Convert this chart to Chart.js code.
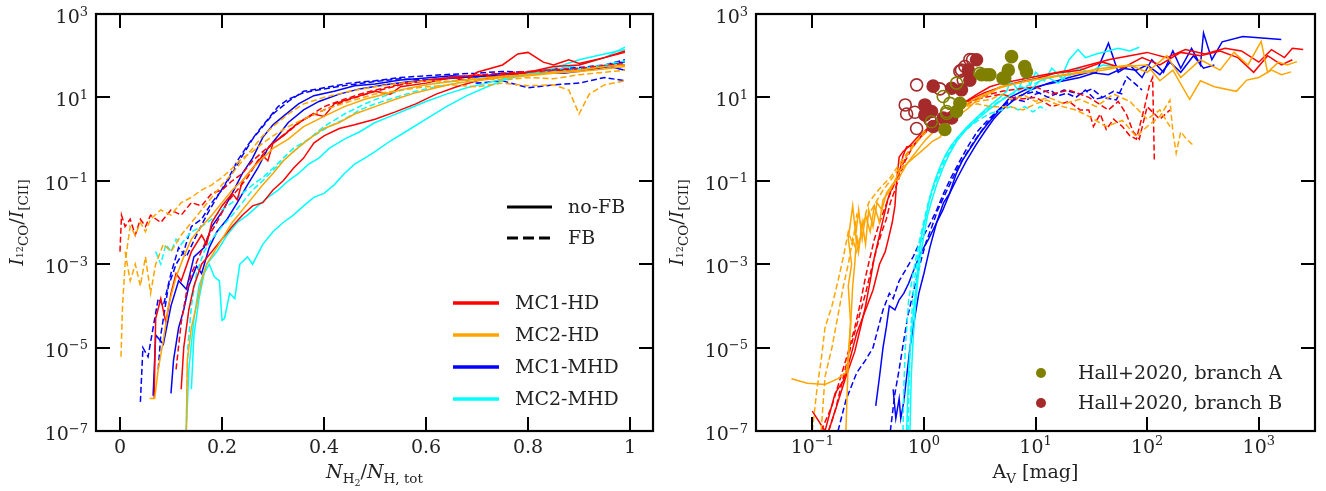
<!DOCTYPE html>
<html>
<head>
<meta charset="utf-8">
<script src="https://cdn.jsdelivr.net/npm/chart.js@4.4.0/dist/chart.umd.min.js"></script>
<style>
html, body { margin: 0; padding: 0; background: #fff; }
#wrap { position: relative; width: 1326px; height: 491px; }
canvas { position: absolute; top: 0; }
</style>
</head>
<body>
<div id="wrap">
  <canvas id="leftCanvas" width="663" height="491" style="left:0"></canvas>
  <canvas id="rightCanvas" width="663" height="491" style="left:663px"></canvas>
</div>
<script>
// ---- tick values / labels ----
const ratioTicks = [1e-7, 1e-5, 1e-3, 1e-1, 1e1, 1e3];
const ratioTickExp = ['\u22127', '\u22125', '\u22123', '\u22121', '1', '3'];
const fracTicks = [0, 0.2, 0.4, 0.6, 0.8, 1];
const fracTickLabels = ['0', '0.2', '0.4', '0.6', '0.8', '1'];
const avTicks = [0.1, 1, 10, 100, 1000];
const avTickExp = ['\u22121', '0', '1', '2', '3'];

const seriesNames = ['MC1-HD', 'MC2-HD', 'MC1-MHD', 'MC2-MHD'];
const seriesColors = ['#ff0000', '#ffa500', '#0000ff', '#00ffff'];

// ---- left panel: ratio vs N_H2/N_H,tot ----
const fracRedSolid1 = [[0.067,6e-7],[0.07,5e-5],[0.08,1.5e-4],[0.09,4e-5],[0.1,2e-4],[0.11,6e-4],[0.12,4e-4],[0.14,2e-3],[0.16,5e-3],[0.17,3e-3],[0.18,1e-2],[0.2,2.5e-2],[0.22,5e-2],[0.23,3.5e-2],[0.24,0.1],[0.26,0.2],[0.28,0.4],[0.29,0.3],[0.3,0.8],[0.32,1.2],[0.35,2.5],[0.38,4],[0.4,3.5],[0.42,7],[0.46,10],[0.5,14],[0.53,12],[0.55,18],[0.6,22],[0.65,30],[0.68,26],[0.7,40],[0.75,60],[0.78,110],[0.8,120],[0.83,70],[0.85,60],[0.88,80],[0.9,65],[0.95,90],[0.99,120]];
const fracRedSolid2 = [[0.12,1e-6],[0.125,1e-5],[0.135,8e-5],[0.145,3e-4],[0.16,1e-3],[0.18,2e-3],[0.2,4e-3],[0.22,8e-3],[0.24,1.5e-2],[0.26,2.5e-2],[0.28,3e-2],[0.3,6e-2],[0.32,0.1],[0.34,0.2],[0.36,0.35],[0.38,0.8],[0.4,1.2],[0.43,1.8],[0.46,2.2],[0.5,3],[0.54,4.5],[0.58,7],[0.62,12],[0.66,18],[0.7,25],[0.75,35],[0.8,40],[0.85,55],[0.9,60],[0.95,90],[0.99,130]];
const fracRedDash1 = [[0.0,2e-3],[0.003,1.5e-2],[0.01,8e-3],[0.02,1.2e-2],[0.03,5e-3],[0.04,1.2e-2],[0.05,8e-3],[0.06,1.5e-2],[0.08,1e-2],[0.1,2e-2],[0.12,1.5e-2],[0.14,3e-2],[0.16,2.5e-2],[0.18,5e-2],[0.2,6e-2],[0.22,0.1],[0.24,0.15],[0.26,0.3],[0.28,0.5],[0.3,0.8],[0.33,1.5],[0.36,3],[0.4,5],[0.45,9],[0.5,14],[0.55,20],[0.6,25],[0.65,30],[0.7,35],[0.75,30],[0.8,40],[0.85,45],[0.9,42],[0.95,55],[0.99,60]];
const fracRedDash2 = [[0.11,3e-6],[0.12,4e-5],[0.13,2e-4],[0.14,6e-4],[0.155,1.5e-3],[0.17,4e-3],[0.19,1e-2],[0.21,3e-2],[0.23,6e-2],[0.25,0.12],[0.27,0.3],[0.29,0.6],[0.31,1],[0.34,2],[0.37,3.5],[0.4,6],[0.44,9],[0.48,13],[0.52,17],[0.56,22],[0.6,26],[0.65,30],[0.7,34],[0.75,38],[0.8,42],[0.85,46],[0.9,50],[0.95,58],[0.99,65]];

const fracOrangeSolid1 = [[0.058,6e-7],[0.068,6e-7],[0.075,3e-6],[0.085,1.5e-5],[0.095,1e-4],[0.11,5e-4],[0.125,1.5e-3],[0.14,4e-3],[0.16,8e-3],[0.18,1.5e-2],[0.2,3e-2],[0.22,6e-2],[0.24,0.1],[0.26,0.2],[0.28,0.35],[0.3,0.6],[0.33,1],[0.36,2],[0.4,3.5],[0.44,6],[0.48,9],[0.52,12],[0.56,16],[0.6,20],[0.65,24],[0.7,28],[0.75,32],[0.8,35],[0.85,40],[0.9,45],[0.95,55],[0.99,60]];
const fracOrangeSolid2 = [[0.13,1e-7],[0.132,5e-6],[0.14,3e-5],[0.15,1e-4],[0.16,4e-4],[0.17,1e-3],[0.185,2e-3],[0.2,4e-3],[0.22,1e-2],[0.24,2e-2],[0.26,4e-2],[0.28,8e-2],[0.3,0.15],[0.32,0.3],[0.34,0.5],[0.37,1],[0.4,1.8],[0.43,2.5],[0.46,4],[0.5,6],[0.54,9],[0.58,13],[0.62,17],[0.66,22],[0.7,25],[0.75,30],[0.8,33],[0.85,38],[0.9,42],[0.95,48],[0.99,55]];
const fracOrangeDash1 = [[0.002,6e-6],[0.005,1e-4],[0.01,1e-3],[0.015,3e-3],[0.02,8e-3],[0.03,5e-3],[0.04,1e-2],[0.05,6e-3],[0.06,1.2e-2],[0.08,2e-2],[0.1,1.5e-2],[0.12,3e-2],[0.14,4e-2],[0.16,6e-2],[0.18,8e-2],[0.2,0.12],[0.22,0.2],[0.24,0.35],[0.26,0.5],[0.28,0.8],[0.3,1.2],[0.33,2],[0.36,3],[0.4,5],[0.45,8],[0.5,12],[0.55,15],[0.6,18],[0.65,20],[0.7,18],[0.75,22],[0.8,19],[0.85,20],[0.88,15],[0.9,4],[0.92,12],[0.95,20],[0.99,25]];
const fracOrangeDash2 = [[0.01,2e-3],[0.02,4e-4],[0.03,1e-3],[0.04,3e-4],[0.05,1.5e-3],[0.06,2e-4],[0.07,1e-3],[0.085,3e-3],[0.1,2e-3],[0.12,5e-3],[0.14,1e-2],[0.16,2e-2],[0.18,4e-2],[0.2,8e-2],[0.22,0.15],[0.24,0.3],[0.26,0.6],[0.28,1.2],[0.3,2],[0.33,4],[0.36,7],[0.4,10],[0.45,14],[0.5,18],[0.55,22],[0.6,25],[0.65,24],[0.7,28],[0.75,26],[0.8,30],[0.85,28],[0.9,35],[0.95,40],[0.99,45]];

const fracBlueSolid1 = [[0.065,7e-7],[0.07,2e-5],[0.085,1.2e-5],[0.1,1e-4],[0.115,4e-4],[0.13,2.5e-4],[0.145,1.5e-3],[0.165,2.5e-3],[0.18,8e-3],[0.2,1.8e-2],[0.22,5e-2],[0.24,0.15],[0.26,0.35],[0.28,1.1],[0.3,2.2],[0.32,3.5],[0.35,7],[0.38,11],[0.42,14],[0.46,19],[0.5,21],[0.55,26],[0.6,29],[0.65,33],[0.7,31],[0.75,38],[0.8,36],[0.85,44],[0.9,48],[0.95,58],[0.99,72]];
const fracBlueSolid2 = [[0.1,8e-7],[0.105,5e-6],[0.115,3e-5],[0.125,8e-5],[0.135,3e-4],[0.15,9e-4],[0.16,6e-4],[0.175,2.5e-3],[0.19,6e-3],[0.21,1.2e-2],[0.23,3e-2],[0.25,8e-2],[0.27,0.2],[0.29,0.6],[0.31,1.2],[0.33,2.5],[0.36,5],[0.39,8],[0.43,12],[0.47,16],[0.52,20],[0.57,24],[0.62,27],[0.67,30],[0.72,33],[0.77,35],[0.82,40],[0.87,38],[0.92,46],[0.96,55],[0.99,45]];
const fracBlueDash1 = [[0.04,5e-7],[0.045,1e-5],[0.055,6e-6],[0.065,3e-5],[0.075,1.5e-4],[0.085,1e-4],[0.1,6e-4],[0.115,2.5e-3],[0.13,1.5e-3],[0.15,5e-3],[0.17,1.5e-2],[0.19,4e-2],[0.21,0.1],[0.23,0.3],[0.25,0.7],[0.27,1.5],[0.29,3],[0.31,6],[0.33,9],[0.36,13],[0.4,16],[0.45,20],[0.5,24],[0.55,28],[0.6,26],[0.65,30],[0.7,22],[0.75,25],[0.8,17],[0.85,20],[0.9,22],[0.95,30],[0.99,25]];
const fracBlueDash2 = [[0.075,3e-6],[0.08,2e-5],[0.095,3e-4],[0.11,1e-3],[0.125,2e-3],[0.14,8e-3],[0.16,1.2e-2],[0.18,3e-2],[0.2,6e-2],[0.22,0.15],[0.24,0.4],[0.26,1],[0.28,2],[0.3,4],[0.33,8],[0.36,14],[0.4,17],[0.45,22],[0.5,25],[0.55,30],[0.6,33],[0.65,36],[0.7,38],[0.75,42],[0.8,40],[0.85,48],[0.9,52],[0.95,60],[0.99,80]];

const fracCyanSolid1 = [[0.14,1e-6],[0.145,2e-5],[0.155,1.5e-4],[0.165,6e-4],[0.175,1e-3],[0.185,5e-4],[0.195,4e-4],[0.2,4.5e-5],[0.205,5e-5],[0.215,2e-4],[0.225,1.5e-4],[0.235,1e-3],[0.25,1.5e-3],[0.26,1e-3],[0.28,3e-3],[0.3,6e-3],[0.32,1e-2],[0.34,1.5e-2],[0.36,2.5e-2],[0.38,4e-2],[0.4,5e-2],[0.42,8e-2],[0.44,0.15],[0.46,0.25],[0.48,0.35],[0.5,0.5],[0.53,0.9],[0.56,1.5],[0.6,3],[0.64,6],[0.68,11],[0.72,18],[0.76,28],[0.8,35],[0.85,50],[0.9,80],[0.95,110],[0.99,140]];
const fracCyanSolid2 = [[0.13,1e-7],[0.135,3e-6],[0.145,5e-5],[0.155,3e-4],[0.17,1e-3],[0.19,2e-3],[0.21,5e-3],[0.23,1e-2],[0.25,1.5e-2],[0.27,2.5e-2],[0.29,4e-2],[0.31,6e-2],[0.33,0.1],[0.35,0.15],[0.37,0.25],[0.39,0.35],[0.41,0.6],[0.44,1],[0.47,1.5],[0.5,2.5],[0.53,3.5],[0.56,5],[0.6,8],[0.64,12],[0.68,17],[0.72,22],[0.76,30],[0.8,38],[0.85,45],[0.9,60],[0.95,90],[0.99,160]];
const fracCyanDash1 = [[0.13,1e-7],[0.133,1e-5],[0.14,1e-4],[0.15,6e-4],[0.165,2e-3],[0.18,4e-3],[0.2,8e-3],[0.22,1.5e-2],[0.24,3e-2],[0.26,6e-2],[0.28,0.1],[0.3,0.18],[0.32,0.3],[0.34,0.5],[0.36,0.8],[0.38,1.2],[0.41,2],[0.44,3],[0.47,5],[0.5,7],[0.54,10],[0.58,14],[0.62,18],[0.66,22],[0.7,26],[0.75,30],[0.8,34],[0.85,40],[0.9,45],[0.95,55],[0.99,65]];
const fracCyanDash2 = [[0.07,2e-3],[0.08,1e-3],[0.09,3e-3],[0.1,2e-3],[0.11,4e-3],[0.12,3e-3],[0.14,6e-3],[0.16,8e-3],[0.18,1.2e-2],[0.2,2e-2],[0.22,3e-2],[0.24,5e-2],[0.26,8e-2],[0.28,0.12],[0.3,0.2],[0.32,0.35],[0.34,0.6],[0.37,1],[0.4,2],[0.44,4],[0.48,7],[0.52,11],[0.56,16],[0.6,20],[0.65,25],[0.7,28],[0.75,32],[0.8,36],[0.85,40],[0.9,48],[0.95,60],[0.99,75]];

// ---- right panel: ratio vs A_V ----
const avRedSolid1 = [[0.1,3e-7],[0.13,1e-7],[0.16,8e-7],[0.19,1.6e-6],[0.22,6e-6],[0.25,2.2e-5],[0.3,8e-5],[0.35,2.4e-4],[0.4,1e-3],[0.45,2e-3],[0.48,4e-3],[0.52,1e-2],[0.55,2.5e-2],[0.57,0.1],[0.6,0.37],[0.65,0.5],[0.75,0.7],[0.9,1.2],[1.13,2],[1.5,3.5],[2.2,7],[3,12],[3.9,18],[5,22],[8,28],[12,35],[20,45],[30,60],[45,80],[70,100],[100,120],[150,90],[220,140],[330,110],[500,150],[700,130],[1000,70],[1300,140],[1700,90],[2000,150],[2500,140]];
const avRedSolid2 = [[0.14,1e-7],[0.17,5e-7],[0.2,2e-6],[0.24,8e-6],[0.27,3e-5],[0.3,1e-4],[0.33,4e-4],[0.36,1.5e-3],[0.4,5e-3],[0.44,1.5e-2],[0.48,4e-2],[0.53,0.08],[0.6,0.15],[0.65,0.4],[0.7,0.65],[0.8,0.7],[0.95,1.2],[1.15,2],[1.5,3.5],[2,6],[2.6,9],[3.5,13],[5,18],[7,23],[10,28],[15,38],[25,45],[40,70],[60,50],[90,90],[130,60],[200,120],[300,100],[450,130],[650,90],[900,40],[1200,100],[1600,60],[2000,80]];
const avRedDash1 = [[0.14,1e-7],[0.16,3e-7],[0.19,2e-6],[0.22,1e-5],[0.26,5e-5],[0.3,2e-4],[0.34,8e-4],[0.38,2.5e-3],[0.42,6e-3],[0.46,1.2e-2],[0.5,3e-2],[0.55,6e-2],[0.6,0.12],[0.68,0.3],[0.78,0.6],[0.9,1],[1.1,1.8],[1.4,3],[1.8,5],[2.5,8],[3.5,10],[5,12],[7,9],[10,10],[14,6],[20,8],[25,5],[30,5],[33,2],[38,4],[43,1.7],[50,3],[60,2],[70,1.2],[80,1],[95,6],[105,20],[112,30],[116,0.3]];
const avRedDash2 = [[0.12,1e-7],[0.15,4e-7],[0.18,2e-6],[0.21,8e-6],[0.24,3e-5],[0.27,1.2e-4],[0.3,5e-4],[0.33,1.5e-3],[0.36,4e-3],[0.4,1e-2],[0.44,2e-2],[0.5,5e-2],[0.56,0.1],[0.62,0.2],[0.7,0.4],[0.8,0.7],[0.95,1.2],[1.2,2],[1.5,3.5],[2,5],[2.7,8],[3.5,11],[5,14],[7,16],[10,18],[14,12],[20,15],[30,10],[45,5],[55,8],[65,4],[75,1.5],[85,1],[100,6],[130,3],[160,5]];

const avOrangeSolid1 = [[0.065,1.8e-6],[0.09,1.4e-6],[0.13,1.3e-6],[0.17,1.8e-6],[0.2,2.5e-6],[0.21,6e-6],[0.22,4e-5],[0.21,3e-4],[0.225,1e-3],[0.21,4e-3],[0.23,2.5e-2],[0.245,5e-3],[0.26,2e-2],[0.28,4e-3],[0.3,1.5e-2],[0.33,6e-3],[0.36,2.5e-2],[0.4,1e-2],[0.43,3.5e-2],[0.5,6e-2],[0.61,0.18],[0.75,0.3],[0.98,0.55],[1.2,0.9],[1.39,1.1],[1.6,2],[2,3.5],[2.5,5.5],[3,8.7],[4,13],[4.8,18],[7,22],[10,27],[16,32],[25,38],[40,45],[60,55],[100,60],[130,25],[170,45],[240,9],[300,25],[400,18],[630,14],[780,26],[1000,30],[1300,45],[1600,35],[1950,41]];
const avOrangeSolid2 = [[0.2,1e-7],[0.21,5e-6],[0.22,3e-5],[0.23,3e-4],[0.24,1e-3],[0.25,5e-3],[0.26,2e-3],[0.28,1e-2],[0.3,3e-3],[0.32,2e-2],[0.35,8e-3],[0.38,3e-2],[0.42,2e-2],[0.46,5e-2],[0.52,8e-2],[0.6,0.12],[0.7,0.25],[0.8,0.4],[0.9,0.6],[1.05,1],[1.25,1.6],[1.5,2.5],[1.8,4],[2.2,6],[2.8,9],[3.5,12],[4.5,16],[6,20],[8,24],[11,28],[15,32],[25,40],[40,50],[70,60],[100,40],[150,100],[200,30],[300,80],[450,45],[600,120],[800,60],[1050,220],[1200,40],[1500,70],[1800,60],[2200,72]];
const avOrangeDash1 = [[0.1,1e-7],[0.11,1e-6],[0.12,5e-6],[0.13,3e-5],[0.15,1e-4],[0.17,4e-4],[0.19,1.5e-3],[0.21,6e-3],[0.23,3e-3],[0.25,1.5e-2],[0.28,8e-3],[0.32,3e-2],[0.37,5e-2],[0.43,8e-2],[0.5,0.12],[0.6,0.25],[0.72,0.5],[0.85,0.9],[1,1.5],[1.3,2.5],[1.7,4],[2.3,6],[3,7],[4,6],[5.9,6],[7.7,5],[10,7],[12.6,8.6],[17.5,6],[23,5],[30,3.5],[43,2],[60,2.8],[80,1.15],[100,2],[130,3.5],[160,8.6],[170,1.5],[182,0.46],[200,1.5],[225,1.0],[260,0.7]];
const avOrangeDash2 = [[0.12,1e-7],[0.13,2e-6],[0.15,1e-5],[0.17,6e-5],[0.19,3e-4],[0.21,1e-3],[0.23,4e-3],[0.25,2e-3],[0.28,8e-3],[0.32,1.5e-2],[0.37,3e-2],[0.43,6e-2],[0.5,0.1],[0.6,0.2],[0.7,0.4],[0.85,0.8],[1,1.3],[1.3,2.5],[1.7,4],[2.2,6],[3,8],[4,9],[5,12],[6,9],[8,11],[10,8],[13,10],[18,7],[25,9],[35,6],[50,12],[70,8],[100,3],[130,5],[160,2]];

const avBlueSolid1 = [[0.53,1e-6],[0.56,2e-7],[0.6,6e-7],[0.62,2e-7],[0.66,5e-7],[0.7,2e-6],[0.75,1e-5],[0.8,3e-5],[0.85,8e-5],[0.9,2e-4],[1,6e-4],[1.13,2.5e-3],[1.3,1e-2],[1.5,3e-2],[1.7,0.05],[1.95,0.15],[2.2,0.3],[2.7,0.7],[3.2,1.4],[3.8,2.5],[4.5,4.2],[5.9,10],[8,15],[12,20],[18,25],[25,30],[35,40],[45,200],[55,40],[70,60],[90,30],[110,80],[140,40],[170,130],[200,50],[250,150],[300,60],[320,350],[380,80],[470,215],[720,290],[1590,245]];
const avBlueSolid2 = [[0.37,4e-7],[0.4,2e-6],[0.43,1e-5],[0.46,3e-5],[0.49,1e-4],[0.55,8e-5],[0.6,1.4e-4],[0.66,2e-4],[0.73,3.5e-4],[0.85,1e-3],[0.95,2e-3],[1.1,4e-3],[1.25,8e-3],[1.48,2e-2],[1.7,5e-2],[2,0.12],[2.4,0.3],[2.9,0.7],[3.5,1.5],[4.2,3],[5,5],[6.5,9],[9,15],[13,22],[20,30],[30,40],[45,35],[60,50],[80,45],[100,60],[130,35],[160,70],[200,40],[260,100],[320,50],[400,60]];
const avBlueDash1 = [[0.17,1e-7],[0.2,5.5e-7],[0.25,2.5e-6],[0.3,5e-6],[0.35,1e-5],[0.39,3e-5],[0.43,8e-5],[0.49,2e-4],[0.53,1.5e-4],[0.6,4e-4],[0.7,8e-4],[0.8,1.5e-3],[0.9,3e-3],[1,5e-3],[1.15,1e-2],[1.3,2e-2],[1.5,5e-2],[1.75,0.12],[2.1,0.3],[2.5,0.7],[3,1.5],[3.8,3],[5,6],[6.5,9],[8,8],[10,12],[13.5,15],[16,11],[19,12.6],[23,10],[28,15],[34,9],[40,10],[53,8.7],[66,31],[80,20],[90,15]];
const avBlueDash2 = [[0.5,1e-7],[0.55,8e-7],[0.6,3e-6],[0.66,1.5e-5],[0.72,6e-5],[0.8,2e-4],[0.88,6e-4],[0.96,1.5e-3],[1.05,3.5e-3],[1.18,8e-3],[1.33,2e-2],[1.5,4e-2],[1.7,8e-2],[2,0.2],[2.4,0.45],[2.9,1],[3.5,2],[4.3,4],[5.3,7],[6.5,10],[8,12],[10,14],[13,10],[18,15],[25,12],[32,16],[40,10],[50,14],[60,12]];

const avCyanSolid1 = [[0.7,1e-7],[0.72,1e-6],[0.74,5e-6],[0.77,2e-5],[0.8,6e-5],[0.84,2e-4],[0.88,8e-4],[0.92,2.5e-3],[0.97,6e-3],[1.05,1.5e-2],[1.13,4e-2],[1.25,0.1],[1.4,0.22],[1.55,0.4],[1.75,0.7],[2,1.1],[2.4,1.9],[3,3.4],[3.8,6],[4.8,10],[5.5,14],[6,25],[7,15],[8,35],[9,20],[10,40],[12,25],[14,50],[17,30],[20,80],[24,140],[28,90],[35,110],[45,130],[55,150],[70,130],[85,160]];
const avCyanSolid2 = [[0.75,1e-7],[0.77,2e-6],[0.8,1.5e-5],[0.84,1e-4],[0.88,4e-4],[0.93,1.5e-3],[1,5e-3],[1.08,1.5e-2],[1.18,3.5e-2],[1.3,8e-2],[1.48,0.2],[1.7,0.45],[1.97,0.9],[2.4,1.7],[3,3],[3.8,5],[4.8,8],[6,12],[7.5,18],[9,15],[11,25],[13,30],[16,22],[20,40],[25,50],[30,40],[40,60],[50,55]];
const avCyanDash1 = [[0.65,1e-7],[0.66,1e-6],[0.68,9e-6],[0.73,1.4e-4],[0.8,6e-4],[0.87,2e-3],[0.95,6e-3],[1.03,1.5e-2],[1.13,4e-2],[1.25,9e-2],[1.4,0.2],[1.6,0.45],[1.85,0.8],[2.2,1.4],[2.7,2.2],[3.3,3.2],[4,4.2],[5,5],[6,6],[7,5],[8,6],[9.5,4.5],[11,6],[12.5,5]];
const avCyanDash2 = [[0.72,1e-7],[0.74,3e-6],[0.77,4e-5],[0.81,3e-4],[0.87,1.2e-3],[0.94,4e-3],[1.02,1.2e-2],[1.1,3e-2],[1.22,7e-2],[1.38,0.16],[1.58,0.35],[1.82,0.7],[2.1,1.2],[2.6,2.2],[3.2,3.8],[4,6],[5,9],[6.5,13],[8,18],[10,22],[12,28],[15,33],[18,28],[22,38]];

// ---- Hall+2020 observations ----
const hallAFilled = [[2.1,7.2],[1.96,4.6],[1.54,1.7],[3.64,35],[3.28,35],[5.3,29],[6.1,95],[5.7,45],[8.0,55],[8.3,41],[5.1,29],[3.9,35]];
const hallAOpen = [[1.71,7.2],[1.6,4.6],[1.17,2.6],[1.96,22],[1.49,10.5],[3.17,38],[1.6,4.1]];
const hallBFilled = [[1.21,18.6],[1.02,6.6],[1.17,4.6],[1.21,2.0],[1.49,3.2],[1.77,3.2],[1.77,16.6],[2.17,15.2],[2.5,45],[2.58,26],[2.96,80],[1.02,3.8]];
const hallBOpen = [[0.86,20],[0.68,6.6],[0.7,4],[0.83,4.4],[0.86,1.8],[1.39,16],[2.1,42],[2.25,26],[2.33,55],[2.73,80],[1.13,2.9],[2.58,81],[2.17,45]];

// ---- build datasets ----
function lineSet(points, color, dashed) {
  return {
    type: 'line',
    data: points.map(p => ({ x: p[0], y: p[1] })),
    borderColor: color,
    borderWidth: 1.5,
    borderDash: dashed ? [6, 3] : [],
    pointRadius: 0,
    fill: false,
    tension: 0,
    order: 2
  };
}
function dotSet(points, color, open) {
  return {
    type: 'scatter',
    data: points.map(p => ({ x: p[0], y: p[1] })),
    pointRadius: 6,
    pointBorderWidth: 1.6,
    pointBorderColor: color,
    pointBackgroundColor: open ? 'rgba(0,0,0,0)' : color,
    order: 1
  };
}

const leftSets = [
  lineSet(fracOrangeDash1, seriesColors[1], true), lineSet(fracOrangeDash2, seriesColors[1], true),
  lineSet(fracOrangeSolid1, seriesColors[1], false), lineSet(fracOrangeSolid2, seriesColors[1], false),
  lineSet(fracRedDash1, seriesColors[0], true), lineSet(fracRedDash2, seriesColors[0], true),
  lineSet(fracRedSolid1, seriesColors[0], false), lineSet(fracRedSolid2, seriesColors[0], false),
  lineSet(fracCyanDash1, seriesColors[3], true), lineSet(fracCyanDash2, seriesColors[3], true),
  lineSet(fracCyanSolid1, seriesColors[3], false), lineSet(fracCyanSolid2, seriesColors[3], false),
  lineSet(fracBlueDash1, seriesColors[2], true), lineSet(fracBlueDash2, seriesColors[2], true),
  lineSet(fracBlueSolid1, seriesColors[2], false), lineSet(fracBlueSolid2, seriesColors[2], false)
];
const rightSets = [
  dotSet(hallAFilled, '#808000', false), dotSet(hallAOpen, '#808000', true),
  dotSet(hallBFilled, '#a52a2a', false), dotSet(hallBOpen, '#a52a2a', true),
  lineSet(avOrangeDash1, seriesColors[1], true), lineSet(avOrangeDash2, seriesColors[1], true),
  lineSet(avOrangeSolid1, seriesColors[1], false), lineSet(avOrangeSolid2, seriesColors[1], false),
  lineSet(avRedDash1, seriesColors[0], true), lineSet(avRedDash2, seriesColors[0], true),
  lineSet(avRedSolid1, seriesColors[0], false), lineSet(avRedSolid2, seriesColors[0], false),
  lineSet(avCyanDash1, seriesColors[3], true), lineSet(avCyanDash2, seriesColors[3], true),
  lineSet(avCyanSolid1, seriesColors[3], false), lineSet(avCyanSolid2, seriesColors[3], false),
  lineSet(avBlueDash1, seriesColors[2], true), lineSet(avBlueDash2, seriesColors[2], true),
  lineSet(avBlueSolid1, seriesColors[2], false), lineSet(avBlueSolid2, seriesColors[2], false)
];

// ---- drawing helpers ----
const SERIF = '"DejaVu Serif", serif';
const mainFont = '19px ' + SERIF;
const italFont = 'italic 19px ' + SERIF;
const subFont = '13.5px ' + SERIF;
const tinyFont = '9.5px ' + SERIF;
const supFont = '13px ' + SERIF;

// runs: [text, font, dy]; y is the baseline
function drawRuns(ctx, runs, x, y, align) {
  let w = 0;
  runs.forEach(r => { ctx.font = r[1]; w += ctx.measureText(r[0]).width; });
  let cx = align === 'center' ? x - w / 2 : (align === 'right' ? x - w : x);
  runs.forEach(r => {
    ctx.font = r[1];
    ctx.fillText(r[0], cx, y + r[2]);
    cx += ctx.measureText(r[0]).width;
  });
}

const ratioTitle = [['I', italFont, 0], ['12', tinyFont, 0], ['CO', subFont, 5], ['/', mainFont, 0], ['I', italFont, 0], ['[CII]', subFont, 5]];

function decorPlugin(cfg) {
  return {
    id: 'decor',
    afterDatasetsDraw(chart) {
      const ctx = chart.ctx, a = chart.chartArea;
      const xs = chart.scales.x, ys = chart.scales.y;
      const TL = 14;
      ctx.save();
      ctx.strokeStyle = '#000';
      ctx.fillStyle = '#222';
      ctx.lineWidth = 2;
      ctx.beginPath();
      cfg.xTicks.forEach(v => {
        const px = Math.round(xs.getPixelForValue(v));
        ctx.moveTo(px, a.bottom); ctx.lineTo(px, a.bottom - TL);
        ctx.moveTo(px, a.top); ctx.lineTo(px, a.top + TL);
      });
      ratioTicks.forEach(v => {
        const py = Math.round(ys.getPixelForValue(v));
        ctx.moveTo(a.left, py); ctx.lineTo(a.left + TL, py);
        ctx.moveTo(a.right, py); ctx.lineTo(a.right - TL, py);
      });
      ctx.stroke();
      ctx.lineWidth = 2.2;
      ctx.strokeRect(a.left, a.top, a.right - a.left, a.bottom - a.top);

      ctx.textBaseline = 'alphabetic';
      // y tick labels
      ratioTicks.forEach((v, i) => {
        const py = ys.getPixelForValue(v);
        drawRuns(ctx, [['10', mainFont, 0], [ratioTickExp[i], supFont, -7.5]], a.left - 8, py + 9, 'right');
      });
      // x tick labels
      cfg.xTicks.forEach((v, i) => {
        const px = xs.getPixelForValue(v);
        drawRuns(ctx, cfg.xLabelRuns(i), px, a.bottom + 22, 'center');
      });
      // x title
      drawRuns(ctx, cfg.xTitle, (a.left + a.right) / 2, 478, 'center');
      // y title
      ctx.save();
      ctx.translate(cfg.yTitleX, (a.top + a.bottom) / 2);
      ctx.rotate(-Math.PI / 2);
      drawRuns(ctx, ratioTitle, 0, 0, 'center');
      ctx.restore();
      // legend
      cfg.legend(ctx);
      ctx.restore();
    }
  };
}

function legendLine(ctx, x0, x1, y, color, dash, lw) {
  ctx.save();
  ctx.strokeStyle = color;
  ctx.lineWidth = lw;
  ctx.setLineDash(dash);
  ctx.beginPath();
  ctx.moveTo(x0, y); ctx.lineTo(x1, y);
  ctx.stroke();
  ctx.restore();
}

function makeChart(id, xScale, pad, datasets, cfg) {
  return new Chart(document.getElementById(id), {
    data: { datasets: datasets },
    options: {
      responsive: false,
      devicePixelRatio: 1,
      animation: false,
      events: [],
      layout: { padding: pad },
      plugins: { legend: { display: false }, tooltip: { enabled: false } },
      scales: {
        x: Object.assign({ display: false }, xScale),
        y: { type: 'logarithmic', display: false, min: 1e-7, max: 1e3 }
      }
    },
    plugins: [decorPlugin(cfg)]
  });
}

makeChart('leftCanvas',
  { type: 'linear', min: -0.047, max: 1.045 },
  { left: 96, right: 10, top: 14, bottom: 60 },
  leftSets,
  {
    xTicks: fracTicks,
    xLabelRuns: i => [[fracTickLabels[i], mainFont, 0]],
    xTitle: [['N', italFont, 0], ['H', subFont, 5], ['2', tinyFont, 8], ['/', mainFont, 0], ['N', italFont, 0], ['H, tot', subFont, 5]],
    yTitleX: 23,
    legend: ctx => {
      ctx.font = mainFont;
      ctx.fillStyle = '#222';
      ctx.textBaseline = 'middle';
      legendLine(ctx, 507, 552, 207, '#000', [], 3);
      ctx.fillText('no-FB', 568, 208);
      legendLine(ctx, 507, 552, 238, '#000', [11, 5], 3);
      ctx.fillText('FB', 568, 239);
      const rows = [303, 335, 367, 399];
      seriesNames.forEach((n, i) => {
        legendLine(ctx, 453, 499, rows[i], seriesColors[i], [], 3.5);
        ctx.fillText(n, 515, rows[i] + 1);
      });
    }
  });

makeChart('rightCanvas',
  { type: 'logarithmic', min: 0.0313, max: 3190 },
  { left: 93, right: 11, top: 14, bottom: 60 },
  rightSets,
  {
    xTicks: avTicks,
    xLabelRuns: i => [['10', mainFont, 0], [avTickExp[i], supFont, -8]],
    xTitle: [['A', mainFont, 0], ['V', subFont, 5], [' [mag]', mainFont, 0]],
    yTitleX: 20,
    legend: ctx => {
      ctx.font = mainFont;
      ctx.textBaseline = 'middle';
      const rows = [373, 403];
      const cols = ['#808000', '#a52a2a'];
      const names = ['Hall+2020, branch A', 'Hall+2020, branch B'];
      rows.forEach((y, i) => {
        ctx.beginPath();
        ctx.fillStyle = cols[i];
        ctx.arc(378, y, 5, 0, Math.PI * 2);
        ctx.fill();
        ctx.fillStyle = '#222';
        ctx.fillText(names[i], 415, y + 1);
      });
    }
  });
</script>
</body>
</html>
